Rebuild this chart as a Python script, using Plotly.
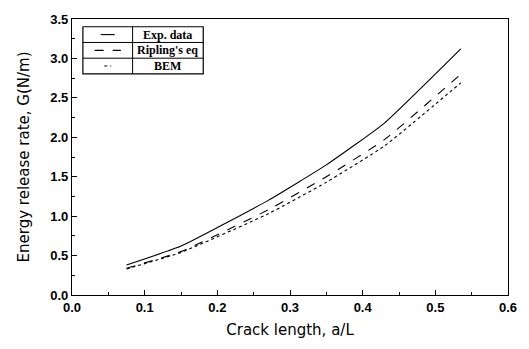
import plotly.graph_objects as go

# Crack length a/L and energy release rate G (N/m)
crack_length = [0.075, 0.15, 0.27, 0.35, 0.43, 0.535]
g_exp = [0.38, 0.62, 1.20, 1.65, 2.18, 3.12]
g_ripling = [0.34, 0.55, 1.08, 1.50, 1.97, 2.80]
g_bem = [0.33, 0.54, 1.03, 1.43, 1.89, 2.69]

series_names = ["Exp. data", "Ripling's eq", "BEM"]
series_dash = ["solid", "dash", "dot"]
series_values = [g_exp, g_ripling, g_bem]

x_ticks = [0.0, 0.1, 0.2, 0.3, 0.4, 0.5, 0.6]
y_ticks = [0.0, 0.5, 1.0, 1.5, 2.0, 2.5, 3.0, 3.5]

fig = go.Figure()
for name, dash, vals in zip(series_names, series_dash, series_values):
    fig.add_trace(go.Scatter(
        x=crack_length, y=vals, mode="lines", name=name,
        line=dict(color="black", width=1.1, dash=dash, shape="spline", smoothing=0.4),
        showlegend=False,
    ))

tick_font = dict(family="Liberation Sans, Arial", size=13, color="black", weight="bold")
title_font = dict(family="DejaVu Sans, Arial", size=15, color="black")
axis_common = dict(
    showline=True, linecolor="black", linewidth=1.2, mirror=True,
    ticks="inside", ticklen=5, tickcolor="black", showgrid=False, zeroline=False,
    tickfont=tick_font,
)

fig.update_xaxes(
    range=[0, 0.6], tickvals=x_ticks, ticktext=[f"{v:.1f}" for v in x_ticks],
    minor=dict(ticks="inside", ticklen=3, tickcolor="black", dtick=0.05, tick0=0),
    title=dict(text="Crack length, a/L", font=title_font, standoff=10),
    **axis_common,
)
fig.update_yaxes(
    range=[0, 3.5], tickvals=y_ticks, ticktext=[f"{v:.1f}" for v in y_ticks],
    minor=dict(ticks="inside", ticklen=3, tickcolor="black", dtick=0.25, tick0=0),
    title=dict(text="Energy release rate, G(N/m)", font=title_font, standoff=16),
    **axis_common,
)

# Legend drawn as a small bordered table in the upper-left corner
x0, x1, xm = 0.025, 0.301, 0.139
y_top, y_bot = 0.972, 0.801
row_h = (y_top - y_bot) / 3
shapes = [
    dict(type="rect", xref="paper", yref="paper", x0=x0, x1=x1, y0=y_bot, y1=y_top,
         line=dict(color="black", width=1.2), fillcolor="white", layer="above"),
    dict(type="line", xref="paper", yref="paper", x0=xm, x1=xm, y0=y_bot, y1=y_top,
         line=dict(color="black", width=1)),
]
for i in (1, 2):
    yy = y_top - i * row_h
    shapes.append(dict(type="line", xref="paper", yref="paper", x0=x0, x1=x1, y0=yy, y1=yy,
                       line=dict(color="black", width=1)))
sample_half = [0.016, 0.03, 0.008]
annotations = []
for i, (name, dash) in enumerate(zip(series_names, series_dash)):
    yc = y_top - (i + 0.5) * row_h
    xc = (x0 + xm) / 2
    shapes.append(dict(type="line", xref="paper", yref="paper",
                       x0=xc - sample_half[i], x1=xc + sample_half[i], y0=yc, y1=yc,
                       line=dict(color="black", width=1.1, dash=dash)))
    annotations.append(dict(xref="paper", yref="paper", x=(xm + x1) / 2, y=yc,
                            text=name, showarrow=False, xanchor="center", yanchor="middle",
                            font=dict(family="Liberation Serif, Times New Roman", size=12,
                                      color="black", weight="bold")))

fig.update_layout(
    width=529, height=349,
    margin=dict(l=72, r=18, t=13, b=54),
    paper_bgcolor="white", plot_bgcolor="white",
    shapes=shapes, annotations=annotations,
    showlegend=False,
)

fig.write_html("out.html")
